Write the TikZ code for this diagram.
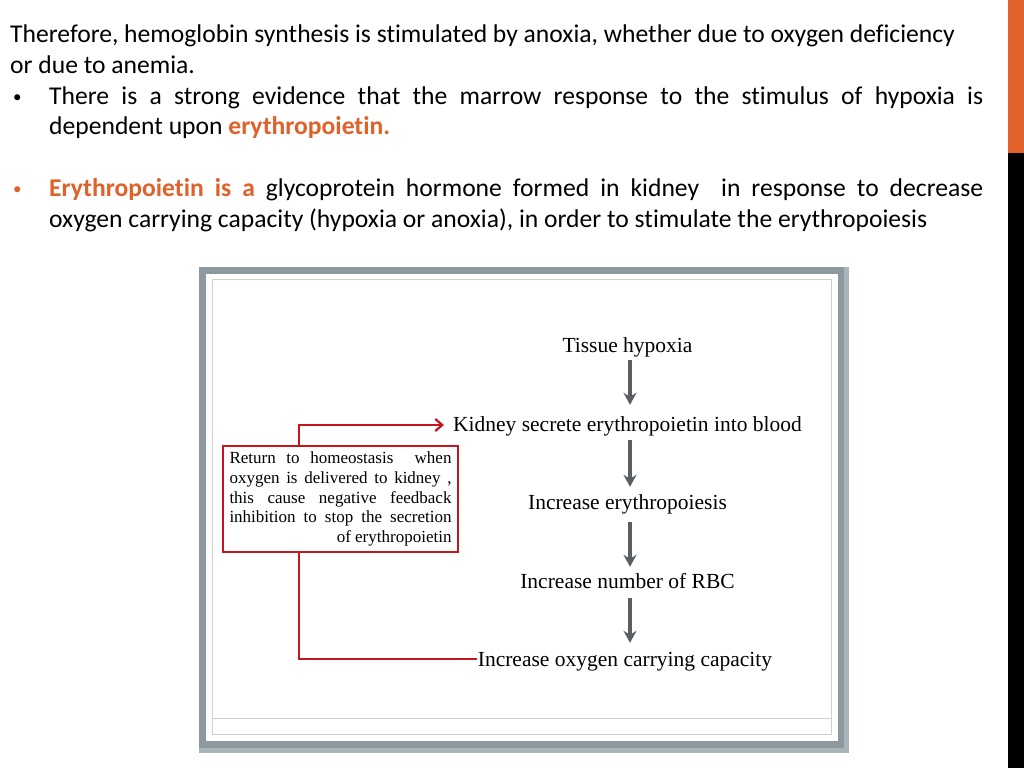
\documentclass[tikz,border=0pt]{standalone}
\usepackage{fontspec}
\setmainfont{Carlito}[Ligatures=NoCommon]
\newfontfamily\serifdiag{Liberation Serif}
\usetikzlibrary{arrows.meta}
\definecolor{orng}{HTML}{E0622A}
\definecolor{redline}{HTML}{C4161C}
\definecolor{arrowgray}{HTML}{5A5F63}
\definecolor{framegray}{HTML}{8C999E}
\definecolor{framelight}{HTML}{A9B5B9}
\definecolor{thingray}{HTML}{CFCFCF}
\begin{document}
\begin{tikzpicture}[x=1pt,y=-1pt,
  slidetext/.style={anchor=base west,inner sep=0pt,font=\fontsize{25.6}{30}\selectfont},
  bullettext/.style={anchor=base west,inner sep=0pt,font=\fontsize{17}{20}\selectfont},
  flowtext/.style={anchor=base,inner sep=0pt,font=\serifdiag\fontsize{21.5}{26}\selectfont,text height=15pt,text depth=5pt},
  fbbox/.style={draw=redline,line width=2pt,inner sep=0pt,minimum width=235pt,minimum height=106pt,font=\serifdiag\fontsize{17}{19.6}\selectfont},
  flowarrow/.style={draw=arrowgray,line width=3.5pt,-{Stealth[length=12pt,width=13pt,inset=4pt]}},
  fbline/.style={draw=redline,line width=2pt}]
\useasboundingbox (0,0) rectangle (1024,768);
\fill[white] (0,0) rectangle (1024,768);
% side bar
\fill[orng] (1008,0) rectangle (1024,153);
\fill[black] (1008,153) rectangle (1024,768);
% slide text
\node[slidetext] (l1) at (10,42.7) {Therefore, hemoglobin synthesis is stimulated by anoxia, whether due to oxygen deficiency};
\node[slidetext] (l2) at (10,73.5) {or due to anemia.};
\node[bullettext] (b1) at (13,102) {•};
\node[slidetext] (l3) at (49,104) {\makebox[934pt][s]{There is a strong evidence that the marrow response to the stimulus of hypoxia is}};
\node[slidetext] (l4) at (49,134.5) {dependent upon \textcolor{orng}{\bfseries erythropoietin.}};
\node[bullettext] (b2) at (13,194.5) {\textcolor{orng}{•}};
\node[slidetext] (l5) at (49,196.5) {\makebox[934pt][s]{\textcolor{orng}{\bfseries Erythropoietin is a} glycoprotein hormone formed in kidney \ in response to decrease}};
\node[slidetext] (l6) at (49,227) {oxygen carrying capacity (hypoxia or anoxia), in order to stimulate the erythropoiesis};
% frame
\fill[framelight] (199,267) rectangle (849,753);
\fill[framegray] (199,267) rectangle (844,748);
\fill[white] (206,274) rectangle (838,741);
\draw[thingray,line width=1pt] (212,279) rectangle (831,734);
\draw[thingray,line width=1pt] (212,718) -- (831,718);
% flow
\coordinate (ax) at (630,0);
\coordinate (fx) at (299,0);
\node[flowtext] (tis) at (627.5,352) {Tissue hypoxia};
\node[flowtext] (kid) at (627.5,431) {Kidney secrete erythropoietin into blood};
\node[flowtext] (ery) at (627.5,509) {Increase erythropoiesis};
\node[flowtext] (rbc) at (627.5,588) {Increase number of RBC};
\node[flowtext] (cap) at (625,666) {Increase oxygen carrying capacity};
\draw[flowarrow] ([yshift=-3pt]tis.south -| ax) -- ([yshift=11pt]kid.north -| ax);
\draw[flowarrow] ([yshift=-4pt]kid.south -| ax) -- ([yshift=7pt]ery.north -| ax);
\draw[flowarrow] ([yshift=-8pt]ery.south -| ax) -- ([yshift=6pt]rbc.north -| ax);
\draw[flowarrow] ([yshift=-5pt]rbc.south -| ax) -- ([yshift=8pt]cap.north -| ax);
% feedback box
\node[fbbox] (fb) at (340.5,499) {\parbox{222pt}{%
\makebox[222pt][s]{Return to homeostasis \ when}\\
\makebox[222pt][s]{oxygen is delivered to kidney ,}\\
\makebox[222pt][s]{this cause negative feedback}\\
\makebox[222pt][s]{inhibition to stop the secretion}\\
\makebox[222pt][r]{of erythropoietin}}};
\draw[fbline,-{Straight Barb[length=7pt,width=12pt,line width=2.2pt]}] (fb.north -| fx) |- ([xshift=-9pt,yshift=1pt]kid.west);
\draw[fbline] (fb.south -| fx) |- ([xshift=-1pt,yshift=2pt]cap.west);
\end{tikzpicture}
\end{document}
